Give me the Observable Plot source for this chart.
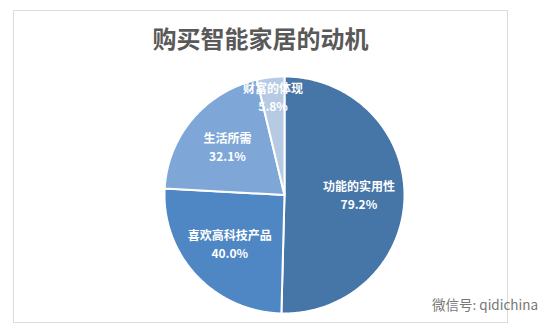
<!DOCTYPE html>
<html>
<head>
<meta charset="utf-8">
<script src="https://cdn.jsdelivr.net/npm/d3@7"></script>
<script src="https://cdn.jsdelivr.net/npm/@observablehq/plot@0.6"></script>
<style>
  body { margin: 0; background: #fff; }
  #wrap { position: relative; width: 560px; height: 332px; overflow: hidden; background: #fff;
          font-family: "Noto Sans CJK SC", "Noto Sans", sans-serif; }
  #frame { position: absolute; left: 13px; top: 10px; width: 493px; height: 311px; border: 1px solid #dcdcdc; }
  #title { position: absolute; left: 13px; width: 495px; top: 21px; text-align: center;
           font-size: 24px; font-weight: bold; color: #595959; line-height: 34px; }
  #chart { position: absolute; left: 0; top: 0; }
  #wm { position: absolute; left: 432px; top: 294px; font-size: 13.5px; color: #777; }
</style>
</head>
<body>
<div id="wrap">
  <div id="frame"></div>
  <div id="title">购买智能家居的动机</div>
  <div id="chart"></div>
  <div id="wm">微信号: qidichina</div>
</div>
<script>
const categories = ["功能的实用性", "喜欢高科技产品", "生活所需", "财富的体现"];
const values = [79.2, 40.0, 32.1, 5.8];
const valueLabels = ["79.2%", "40.0%", "32.1%", "5.8%"];
const colors = ["#4676a8", "#4f87c4", "#7ea7d8", "#b6cae3"];

const data = categories.map((name, i) => ({name, value: values[i], label: valueLabels[i]}));
const arcs = d3.pie().value(d => d.value).sort(null)(data);

// polygon points for each slice (angle clockwise from top)
const pts = [];
for (const a of arcs) {
  pts.push({name: a.data.name, x: 0, y: 0});
  const n = Math.max(2, Math.ceil((a.endAngle - a.startAngle) / 0.01));
  for (let k = 0; k <= n; k++) {
    const t = a.startAngle + (a.endAngle - a.startAngle) * k / n;
    pts.push({name: a.data.name, x: Math.sin(t), y: Math.cos(t)});
  }
  pts.push({name: a.data.name, x: 0, y: 0});
}

const labels = arcs.map(a => {
  const mid = (a.startAngle + a.endAngle) / 2;
  const r = (a.endAngle - a.startAngle) < 0.5 ? 0.82 : 0.62;
  return {name: a.data.name, label: a.data.label, x: r * Math.sin(mid), y: r * Math.cos(mid)};
});

const chart = Plot.plot({
  width: 560,
  height: 332,
  marginLeft: 164,
  marginRight: 156,
  marginTop: 76,
  marginBottom: 19,
  x: {domain: [-1, 1], axis: null},
  y: {domain: [-1, 1], axis: null},
  color: {domain: categories, range: colors},
  style: {background: "transparent", fontFamily: "'Noto Sans CJK SC', sans-serif"},
  marks: [
    Plot.line(pts, {x: "x", y: "y", z: "name", fill: "name", stroke: "white", strokeWidth: 2, strokeLinejoin: "round"}),
    Plot.text(labels, {x: "x", y: "y", text: "name", dy: -9, fill: "white", fontSize: 12, fontWeight: "bold"}),
    Plot.text(labels, {x: "x", y: "y", text: "label", dy: 9, fill: "white", fontSize: 12, fontWeight: "bold"})
  ]
});
document.getElementById("chart").appendChild(chart);
</script>
</body>
</html>
